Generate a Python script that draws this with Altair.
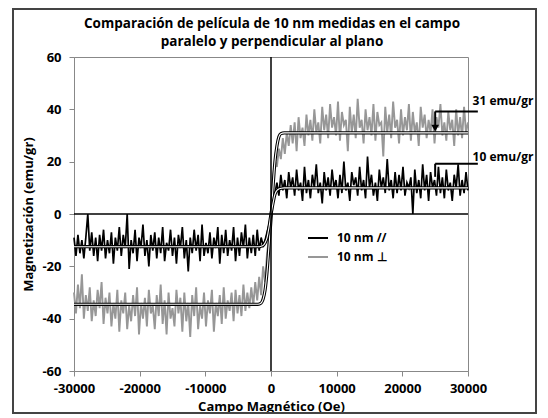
import altair as alt
import pandas as pd

# Field grid (Oe)
field = list(range(-30000, 30001, 300))

# 10 nm perpendicular (gray) magnetization, emu/gr
perp = [
    -30, -38, -27, -36, -23, -40, -31, -37, -28, -41,
    -33, -39, -29, -36, -26, -42, -32, -38, -30, -43,
    -34, -40, -29, -45, -33, -38, -30, -44, -35, -41,
    -31, -39, -28, -46, -34, -40, -32, -43, -29, -38,
    -35, -44, -31, -39, -27, -42, -33, -46, -30, -40,
    -36, -43, -29, -38, -32, -45, -30, -41, -34, -47,
    -31, -39, -28, -44, -35, -40, -30, -43, -33, -38,
    -29, -45, -34, -39, -31, -42, -28, -40, -33, -37,
    -30, -41, -29, -38, -31, -39, -27, -37, -30, -36,
    -28, -35, -26, -33, -24, -31, -20, -26, -15, -9,
    0,
    14, 20, 18, 25, 21, 29, 23, 31, 26, 34,
    27, 35, 24, 37, 29, 33, 26, 38, 30, 36,
    28, 40, 31, 35, 27, 41, 32, 38, 29, 42,
    33, 37, 30, 43, 28, 39, 34, 36, 24, 41,
    31, 38, 29, 44, 33, 36, 27, 40, 32, 37,
    30, 42, 28, 39, 34, 35, 22, 41, 31, 38,
    29, 43, 33, 36, 27, 40, 30, 37, 32, 42,
    28, 39, 31, 35, 26, 41, 33, 38, 29, 36,
    31, 40, 27, 37, 33, 42, 30, 35, 28, 39,
    32, 36, 26, 40, 30, 37, 29, 41, 31, 35,
]

# 10 nm parallel (black) magnetization, emu/gr
par = [
    -9, -16, -8, -15, -10, -17, -9, 0, -14, -7,
    -16, -9, -18, -8, -14, -6, -17, -10, -15, -7,
    -19, -9, -14, -5, -16, -8, -13, 0, -21, -10,
    -15, -6, -18, -9, -13, -4, -16, -10, -20, -8,
    -14, -7, -17, -9, -15, -5, -18, -11, -14, -6,
    -16, -9, -19, -8, -13, -5, -17, -10, -22, -9,
    -15, -6, -14, -8, -18, -4, -16, -11, -15, -7,
    -17, -9, -13, -5, -19, -8, -15, -6, -16, -10,
    -14, -5, -18, -9, -16, -7, -13, -4, -17, -9,
    -15, -8, -16, -6, -14, -9, -12, -10, -7, -4,
    0,
    5, 8, 12, 7, 15, 9, 13, 6, 16, 10,
    14, 7, 17, 9, 12, 5, 18, 8, 13, 6,
    15, 10, 19, 8, 12, 4, 16, 9, 14, 7,
    17, 10, 13, 6, 15, 8, 20, 9, 12, 5,
    16, 11, 14, 7, 18, 9, 13, 6, 22, 10,
    15, 7, 12, 5, 17, 10, 14, 8, 21, 9,
    13, 6, 16, 8, 15, 9, 18, 7, 12, 10,
    14, 0, 17, 8, 13, 6, 19, 9, 15, 5,
    16, 10, 13, 7, 18, 8, 14, 6, 17, 9,
    12, 5, 15, 10, 19, 7, 13, 8, 16, 9,
]

# Smooth fitted curves
fit_x = [-30000, -2000, -1500, -1200, -900, -600, -300, 0, 300, 600, 900, 1200, 1500, 2000, 30000]
fit_perp = [-34.5, -34.5, -34, -32.5, -29, -22, -12, -2, 10, 20, 26, 29.5, 30.7, 31, 31]
fit_par = [-12.5, -12.5, -12.3, -12, -11, -9, -5, 0, 4, 7.5, 9, 9.6, 9.8, 10, 10]

x_ticks = [-30000, -20000, -10000, 0, 10000, 20000, 30000]
y_ticks = [-60, -40, -20, 0, 20, 40, 60]

title_lines = ["Comparación de película de 10 nm medidas en el campo",
               "paralelo y perpendicular al plano"]

# Annotations (data coordinates)
ann_x1 = [25000, 25000, 25000, 25000]
ann_x2 = [31500, 25000, 31500, 25000]
ann_y1 = [39.2, 39.2, 19.2, 19.2]
ann_y2 = [39.2, 33.5, 19.2, 14.2]
ann_text = ["31 emu/gr", "10 emu/gr"]
ann_text_x = [30700, 30700]
ann_text_y = [43, 21.8]

legend_labels = ["10 nm //", "10 nm ⊥"]

FONT = "Open Sans"

df = pd.DataFrame({"field": field, "perp": perp, "par": par})
fit = pd.DataFrame({"field": fit_x, "perp": fit_perp, "par": fit_par})
seg = pd.DataFrame({"field": ann_x1, "x2": ann_x2, "m": ann_y1, "y2": ann_y2})
lab = pd.DataFrame({"field": ann_text_x, "m": ann_text_y, "t": ann_text})
arrow = pd.DataFrame({"field": [25000], "m": [32.8]})
zero = pd.DataFrame({"field": [0], "m": [0]})
one = pd.DataFrame({"v": [0]})

xs = alt.Scale(domain=[-30000, 30000], nice=False, zero=False)
ys = alt.Scale(domain=[-60, 60], nice=False)

XT = "Campo Magnético (Oe)"
YT = "Magnetización (emu/gr)"

xaxis = alt.Axis(
    values=x_ticks, grid=False, labelExpr="datum.value + ''",
    labelOverlap=False, labelFlush=False, labelBound=False,
    labelFont=FONT, labelFontSize=13, labelFontWeight="bold", labelColor="black",
    titleFont=FONT, titleFontSize=13, titleFontWeight="bold", titleColor="black",
    tickSize=5, tickColor="#888", domainColor="#888", labelPadding=6,
    titleX=197, titleY=35, titleBaseline="middle", titleAlign="center",
)
yaxis = alt.Axis(
    values=y_ticks, grid=False, labelExpr="datum.value + ''",
    labelOverlap=False, labelFlush=False,
    labelFont=FONT, labelFontSize=13, labelFontWeight="bold", labelColor="black",
    titleFont=FONT, titleFontSize=13, titleFontWeight="bold", titleColor="black",
    tickSize=5, tickColor="#888", domainColor="#888", labelPadding=8,
    titleX=-46, titleY=157, titleAngle=-90, titleBaseline="middle", titleAlign="center",
)


def X(f="field"):
    return alt.X(f"{f}:Q", scale=xs, axis=xaxis, title=XT)


def Y(f):
    return alt.Y(f"{f}:Q", scale=ys, axis=yaxis, title=YT)


gray = alt.Chart(df).mark_line(color="#979797", strokeWidth=1.9).encode(x=X(), y=Y("perp"))
black = alt.Chart(df).mark_line(color="black", strokeWidth=1.7).encode(x=X(), y=Y("par"))


def fit_layers(col):
    base = alt.Chart(fit).encode(x=X(), y=Y(col))
    return [
        base.mark_line(color="black", strokeWidth=3.2, interpolate="monotone"),
        base.mark_line(color="white", strokeWidth=1.1, interpolate="monotone"),
    ]


zero_h = alt.Chart(zero).mark_rule(color="black", strokeWidth=1.5).encode(y=Y("m"))
zero_v = alt.Chart(zero).mark_rule(color="black", strokeWidth=1.5).encode(x=X())

segs = alt.Chart(seg).mark_rule(color="black", strokeWidth=2).encode(
    x=X(), x2="x2:Q", y=Y("m"), y2="y2:Q")
head = alt.Chart(arrow).mark_point(shape="triangle-down", filled=True, color="black",
                                   size=60, opacity=1).encode(x=X(), y=Y("m"))
labels = alt.Chart(lab).mark_text(align="left", baseline="middle", font=FONT,
                                  fontSize=12, fontWeight="bold", color="black").encode(
    x=X(), y=Y("m"), text="t:N")

leg_line1 = alt.Chart(one).mark_rule(color="black", strokeWidth=2).encode(
    x=alt.value(234), x2=alt.value(254), y=alt.value(181))
leg_line2 = alt.Chart(one).mark_rule(color="#979797", strokeWidth=2).encode(
    x=alt.value(234), x2=alt.value(254), y=alt.value(200))
leg_t1 = alt.Chart(one).mark_text(align="left", baseline="middle", font=FONT, fontSize=12,
                                  fontWeight="bold", color="black").encode(
    x=alt.value(263), y=alt.value(181), text=alt.value(legend_labels[0]))
leg_t2 = alt.Chart(one).mark_text(align="left", baseline="middle", font=FONT, fontSize=12,
                                  fontWeight="bold", color="black").encode(
    x=alt.value(263), y=alt.value(200), text=alt.value(legend_labels[1]))

ttl1 = alt.Chart(one).mark_text(align="center", baseline="middle", font=FONT, fontSize=13.5,
                                fontWeight="bold", color="black").encode(
    x=alt.value(198), y=alt.value(-33), text=alt.value(title_lines[0]))
ttl2 = alt.Chart(one).mark_text(align="center", baseline="middle", font=FONT, fontSize=13.5,
                                fontWeight="bold", color="black").encode(
    x=alt.value(198), y=alt.value(-15), text=alt.value(title_lines[1]))

frame = alt.Chart(one).mark_rect(filled=False, stroke="#444", strokeWidth=2).encode(
    x=alt.value(-61), x2=alt.value(462), y=alt.value(-48), y2=alt.value(356))

layers = [gray, black] + fit_layers("perp") + fit_layers("par") + [
    zero_h, zero_v, segs, head, labels, leg_line1, leg_line2, leg_t1, leg_t2,
    ttl1, ttl2, frame]

chart = alt.layer(*layers).properties(
    width=394, height=314,
    autosize=alt.AutoSizeParams(type="none"),
    padding={"left": 66, "top": 49, "right": 71, "bottom": 45},
).configure_view(stroke="#888", strokeWidth=1)

chart.save("out.html", embed_options={"renderer": "svg", "actions": False})
